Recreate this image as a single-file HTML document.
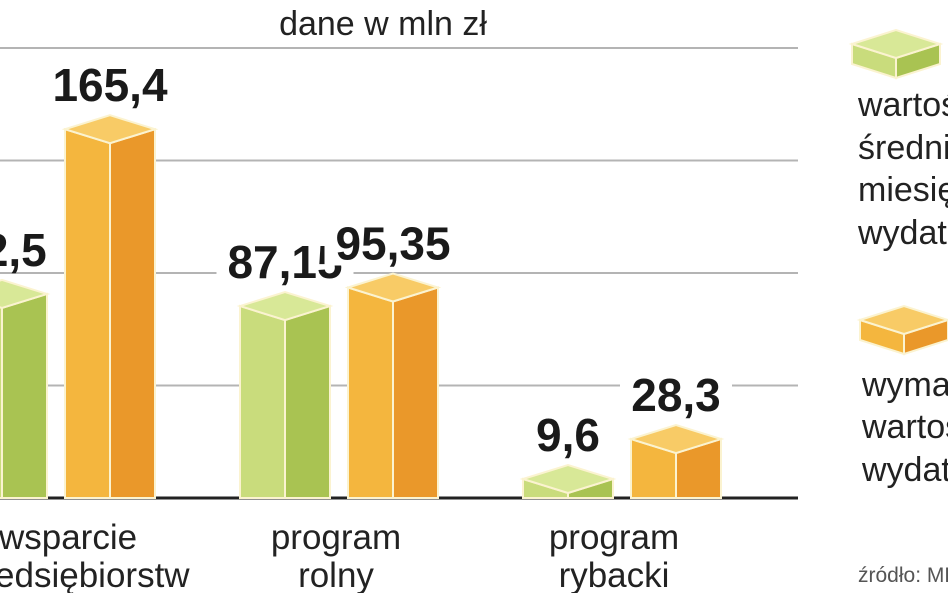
<!DOCTYPE html>
<html><head><meta charset="utf-8"><style>
html,body{margin:0;padding:0;background:#fff;overflow:hidden}
svg{display:block}
text{font-family:"Liberation Sans","DejaVu Sans",sans-serif}
</style></head><body>
<svg id="c" width="948" height="593" viewBox="0 0 948 593">
<text x="383" y="35" font-size="34" text-anchor="middle" fill="#222">dane w mln zł</text>
<g id="grid"></g><g id="bars"></g><g id="labels"></g>
<g>
<g id="leg"></g>
<text font-size="34" fill="#222"><tspan x="858" y="116">wartość</tspan><tspan x="858" y="159">średnia</tspan><tspan x="858" y="201">miesięczna</tspan><tspan x="858" y="244">wydatków</tspan></text>
<text font-size="34" fill="#222"><tspan x="862" y="396">wymagana</tspan><tspan x="862" y="438">wartość</tspan><tspan x="862" y="481">wydatków</tspan></text>
</g>
<text x="858" y="582" font-size="21" fill="#555">źródło: MRR</text>
</svg>
<script>
const categories=[["wsparcie","przedsiębiorstw"],["program","rolny"],["program","rybacki"]];
const seriesGreen=[92.5,87.15,9.6];
const seriesOrange=[165.4,95.35,28.3];
const labelsGreen=["92,5","87,15","9,6"];
const labelsOrange=["165,4","95,35","28,3"];
const gridValues=[0,1,2,3,4];
const NS="http://www.w3.org/2000/svg";
const base=498,half=45,dep=14;
function yH(v){return Math.max(5,2.26*v-19);}
function xC(i){return 110+i*283;}
function mk(t,a,p){const e=document.createElementNS(NS,t);for(const k in a)e.setAttribute(k,a[k]);p.appendChild(e);return e;}
const grid=document.getElementById('grid');
gridValues.forEach(g=>{const y=base-g*112.5;
const l=mk('line',{x1:0,x2:798,y1:y,y2:y,stroke:g===0?'#222':'#b4b4b4','stroke-width':g===0?3:2},grid);

});
const cols={g:['#c9dc7c','#a9c352','#d8e897'],o:['#f4b63e','#ea982a','#f8cb66']};
function cube(par,cx,h,c,name){
 const g=mk('g',{},par);
 
 
 const top=base-h;
 const st={stroke:'#fbf3d0','stroke-width':2};
 mk('polygon',Object.assign({points:`${cx-half},${top-dep} ${cx},${top} ${cx},${base} ${cx-half},${base}`,fill:c[0]},st),g);
 mk('polygon',Object.assign({points:`${cx},${top} ${cx+half},${top-dep} ${cx+half},${base} ${cx},${base}`,fill:c[1]},st),g);
 mk('polygon',Object.assign({points:`${cx-half},${top-dep} ${cx},${top-2*dep} ${cx+half},${top-dep} ${cx},${top}`,fill:c[2]},st),g);
 return top-2*dep;}
const bars=document.getElementById('bars'),lab=document.getElementById('labels');
function vlabel(x,y,t,name){
 const w=t.length*25+12;
 const r=mk('rect',{x:x-w/2,y:y-38,width:w,height:44,fill:'#fff'},lab);
 
 
 const e=mk('text',{x:x,y:y,'font-size':46,'font-weight':'bold','text-anchor':'middle',fill:'#1a1a1a'},lab);
 e.textContent=t;
 
 }
const catX=[68,336,614];
categories.forEach((cat,i)=>{
 const co=xC(i),cg=co-108;
 const tg=cube(bars,cg,yH(seriesGreen[i]),cols.g,'bar-green-'+i);
 const to=cube(bars,co,yH(seriesOrange[i]),cols.o,'bar-orange-'+i);
 vlabel(cg,tg-14,labelsGreen[i],'value-green-'+i);
 vlabel(co,to-14,labelsOrange[i],'value-orange-'+i);
 const t=mk('text',{'font-size':35,'text-anchor':'middle',fill:'#222'},lab);
 
 
 cat.forEach((s,j)=>{const sp=mk('tspan',{x:catX[i],y:549+j*38},t);sp.textContent=s;});
});
const leg=document.getElementById('leg');
function lcube(x,y,c,name){const g=mk('g',{},leg);
 
 
 const st={stroke:'#fbf3d0','stroke-width':2};
 mk('polygon',Object.assign({points:`${x},${y+14} ${x+44},${y+28} ${x+44},${y+48} ${x},${y+34}`,fill:c[0]},st),g);
 mk('polygon',Object.assign({points:`${x+44},${y+28} ${x+88},${y+14} ${x+88},${y+34} ${x+44},${y+48}`,fill:c[1]},st),g);
 mk('polygon',Object.assign({points:`${x},${y+14} ${x+44},${y} ${x+88},${y+14} ${x+44},${y+28}`,fill:c[2]},st),g);}
lcube(852,30,cols.g,'legend-swatch-green');
lcube(860,306,cols.o,'legend-swatch-orange');
</script>
</body></html>
